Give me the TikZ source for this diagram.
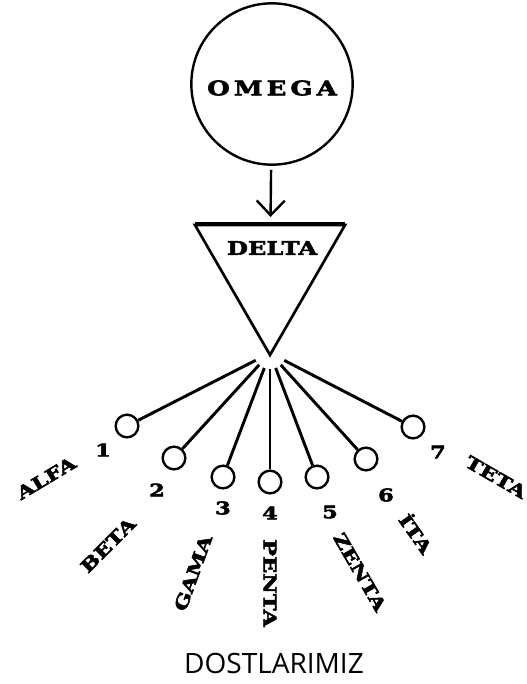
\documentclass[tikz,border=0pt]{standalone}
\usepackage{fontspec}
\usepackage{tikz}
\usetikzlibrary{shapes.geometric, arrows.meta, positioning}
\newfontfamily\clar{DejaVu Serif}[UprightFont={* Bold}, FakeStretch=1.3, FakeBold=3]
\newfontfamily\titlefont{Open Sans}
\tikzstyle{bigring} = [circle, draw, line width=1.8pt, minimum size=121pt, inner sep=0pt]
\tikzstyle{tri} = [regular polygon, regular polygon sides=3, shape border rotate=180, draw, line width=2pt, minimum size=130pt, inner sep=0pt]
\tikzstyle{friend} = [circle, draw, line width=1.8pt, minimum size=17pt, inner sep=0pt]
\tikzstyle{spoke} = [line width=2.2pt, shorten <=12pt]
\tikzstyle{arrow} = [line width=1.8pt, shorten <=3pt, shorten >=5pt, -{Straight Barb[length=11pt, width=21pt]}]
\tikzstyle{lbl} = [font=\clar\fontsize{13}{13}\selectfont, inner sep=0pt]

\begin{document}
\begin{tikzpicture}[x=0.75pt, y=-0.75pt]
  \useasboundingbox (0,0) rectangle (527,684);

  \node[bigring] (omega) at (272,84) {};
  \node[font=\clar\fontsize{15}{15}\selectfont] (omegalbl) at (272,88) {O\kern3pt M\kern3pt E\kern3pt G\kern3pt A};
  \node[tri] (delta) at (270,268.3) {};
  \draw[line width=2.6pt, shorten <=2pt, shorten >=2pt] (delta.corner 2) -- (delta.corner 3);
  \node[font=\clar\fontsize{14}{14}\selectfont] (deltalbl) at (272,248) {DELTA};
  \coordinate (hub) at (270,353);

  \draw[arrow] (omega) -- (delta);

  % friends, from left to right
  \foreach \i/\cx/\cy in {1/127/426, 2/174/458, 3/223/477, 4/270/482, 5/317/477, 6/366/459, 7/413/427} {
    \node[friend] (f\i) at (\cx,\cy) {};
    \draw[spoke] (hub) -- (f\i);
  }

  \node[lbl] (n1) at (103,450) {1};
  \node[lbl] (n2) at (157,490) {2};
  \node[lbl] (n3) at (223,508) {3};
  \node[lbl] (n4) at (270,513) {4};
  \node[lbl] (n5) at (330,512) {5};
  \node[lbl] (n6) at (386,495) {6};
  \node[lbl] (n7) at (438,452) {7};

  \node[lbl, rotate=31] (alfa) at (46,478) {ALFA};
  \node[lbl, rotate=45] (beta) at (108,545) {BETA};
  \node[lbl, rotate=70] (gama) at (193,573) {GAMA};
  \node[lbl, rotate=-90] (penta) at (270,583) {PENTA};
  \node[lbl, rotate=-60] (zenta) at (360,572) {ZENTA};
  \node[lbl, rotate=-55] (ita) at (417,533) {İTA};
  \node[lbl, rotate=-30] (teta) at (496,477) {TETA};

  \node[font=\titlefont\fontsize{21}{21}\selectfont] (title) at (274,663) {DOSTLARIMIZ};
\end{tikzpicture}
\end{document}
